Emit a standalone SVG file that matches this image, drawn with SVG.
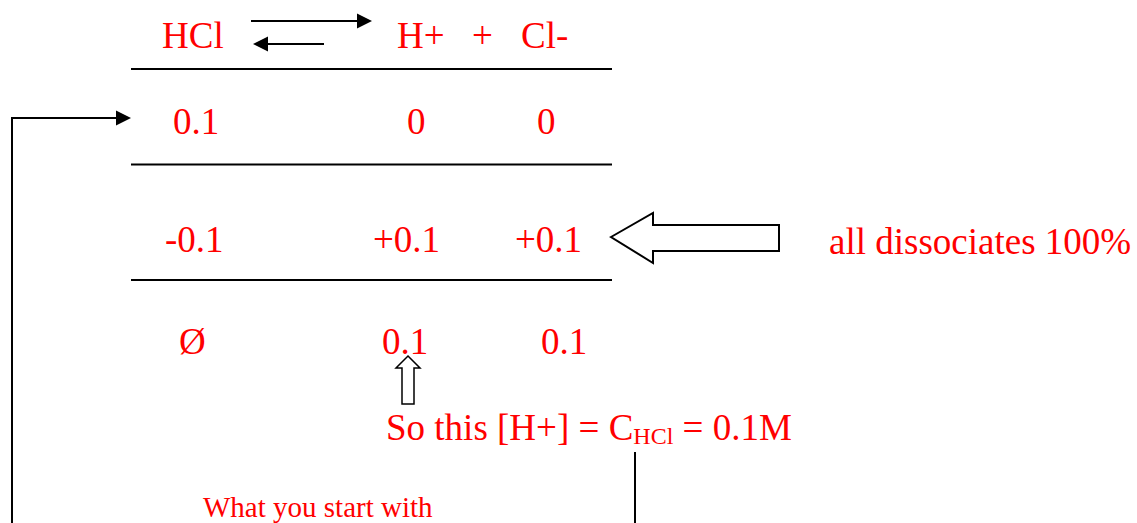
<svg xmlns="http://www.w3.org/2000/svg" width="1137" height="523" viewBox="0 0 1137 523">
<style>
.t{font-family:"Liberation Serif","Times New Roman",serif;font-size:37px;fill:#ff0000}
.s{font-size:29px}
.ln{stroke:#000;stroke-width:2;fill:none}
.blk{stroke:#000;stroke-width:2;fill:#fff}
.hd{fill:#000;stroke:none}
</style>
<rect width="1137" height="523" fill="#fff"/>
<g id="connectors">
<line class="ln" x1="251" y1="21" x2="358" y2="21"/>
<polygon class="hd" points="372,21 357,13.5 357,28.5"/>
<line class="ln" x1="266" y1="44" x2="324" y2="44"/>
<polygon class="hd" points="253,44 268,36.5 268,51.5"/>
<polyline class="ln" points="12,523 12,118 118,118"/>
<polygon class="hd" points="131,118 116,110.5 116,125.5"/>
<line class="ln" x1="635" y1="452" x2="635" y2="523"/>
<polygon class="blk" style="stroke-width:1.5" points="408,356 420,368 414,368 414,404 402,404 402,368 396,368"/>
<polygon class="blk" points="611,237 653,213 653,225 779,225 779,251 653,251 653,263"/>
</g>
<g id="rules">
<line class="ln" x1="131" y1="69" x2="612" y2="69"/>
<line class="ln" x1="131" y1="164.5" x2="612" y2="164.5"/>
<line class="ln" x1="131" y1="280" x2="612" y2="280"/>
</g>
<g id="row-species">
<text class="t" x="162" y="48">HCl</text>
<text class="t" x="397" y="48">H+</text>
<text class="t" x="472" y="48">+</text>
<text class="t" x="521" y="48">Cl-</text>
</g>
<g id="row-initial">
<text class="t" x="173" y="134">0.1</text>
<text class="t" x="407" y="134">0</text>
<text class="t" x="537" y="134">0</text>
</g>
<g id="row-change">
<text class="t" x="165" y="252">-0.1</text>
<text class="t" x="373" y="252">+0.1</text>
<text class="t" x="515" y="252">+0.1</text>
</g>
<g id="row-final">
<text class="t" x="179" y="354">Ø</text>
<text class="t" x="382" y="354">0.1</text>
<text class="t" x="541" y="354">0.1</text>
</g>
<g id="note-dissociates">
<text class="t" x="829" y="254">all dissociates 100%</text>
</g>
<g id="note-conc">
<text class="t" x="386" y="440">So this [H+] = C<tspan font-size="24" dy="4">HCl</tspan><tspan dy="-4"> = 0.1M</tspan></text>
</g>
<g id="note-start">
<text class="t s" x="203" y="517">What you start with</text>
</g>
</svg>
